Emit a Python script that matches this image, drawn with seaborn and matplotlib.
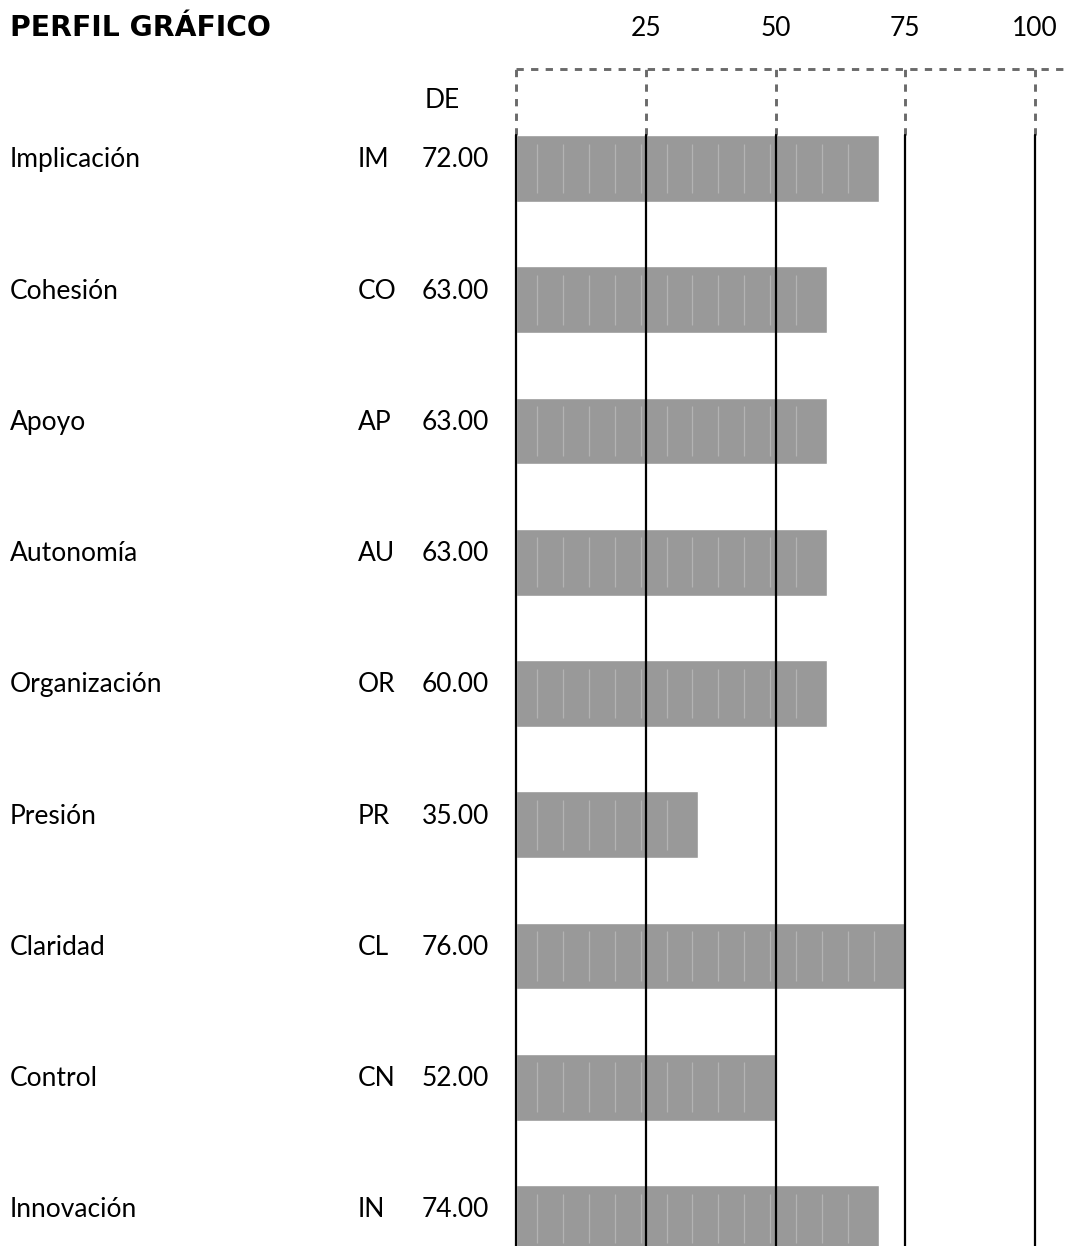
import matplotlib
matplotlib.use("Agg")
import matplotlib.pyplot as plt
import matplotlib.transforms as mtransforms
import pandas as pd
import seaborn as sns

# Data
scales = ["Implicación", "Cohesión", "Apoyo", "Autonomía", "Organización",
          "Presión", "Claridad", "Control", "Innovación"]
codes = ["IM", "CO", "AP", "AU", "OR", "PR", "CL", "CN", "IN"]
scores = [72.00, 63.00, 63.00, 63.00, 60.00, 35.00, 76.00, 52.00, 74.00]
# drawn bar length (the bars are built from 5-point blocks)
bar_len = [70, 60, 60, 60, 60, 35, 75, 50, 70]
ticks = [25, 50, 75, 100]

df = pd.DataFrame({"scale": scales, "code": codes, "score": scores, "bar": bar_len})

W, H = 1065, 1246
sns.set_style("white")
plt.rcParams["font.family"] = ["Lato", "DejaVu Sans"]
plt.rcParams["text.color"] = "black"
FS = 19

fig = plt.figure(figsize=(W / 100, H / 100), dpi=100)
ax_left, ax_right, ax_top = 516, 1035, 135
ax = fig.add_axes([ax_left / W, 0, (ax_right - ax_left) / W, 1 - ax_top / H])

sns.barplot(data=df, x="bar", y="scale", orient="h", color="#999999",
            saturation=1, width=0.51, ax=ax, zorder=2)

# row geometry in pixels
row0, step = 168.5, 131.25
def prow(py):
    return (py - row0) / step

ax.set_xlim(0, 100)
ax.set_ylim(prow(H), prow(ax_top))
ax.set_xlabel("")
ax.set_ylabel("")
ax.set_xticks([])
ax.set_yticks([])
for s in ax.spines.values():
    s.set_visible(False)

# light block separators inside the bars
for i, b in enumerate(bar_len):
    xs = [5 * k - 1 for k in range(1, b // 5)]
    ax.vlines(xs, i - 0.19, i + 0.19, color="#b3b3b3", lw=0.9, zorder=3)

# solid reference lines
for x in [0] + ticks:
    ax.axvline(x, color="black", lw=1.6, zorder=4, clip_on=False)

# dashed frame above the plot
top_dash = prow(69)
dash = dict(color="#6a6a6a", lw=2.1, ls=(0, (2.5, 2.5)), clip_on=False)
for x in [0] + ticks:
    ax.plot([x, x], [prow(ax_top), top_dash], **dash)
ax.plot([0, (W - ax_left) / ((ax_right - ax_left) / 100)], [top_dash, top_dash], **dash)

# tick labels on top
for t in ticks:
    ax.text(t, prow(28), str(t), ha="center", va="center", fontsize=FS,
            clip_on=False)

# row texts
fx = mtransforms.blended_transform_factory(fig.transFigure, ax.transData)
for i, (name, code, sc) in enumerate(zip(scales, codes, scores)):
    y = i - 0.065
    ax.text(10 / W, y, name, transform=fx, ha="left", va="center", fontsize=FS)
    ax.text(358 / W, y, code, transform=fx, ha="left", va="center", fontsize=FS)
    ax.text(489 / W, y, f"{sc:.2f}", transform=fx, ha="right", va="center", fontsize=FS)

ax.text(425 / W, prow(100), "DE", transform=fx, ha="left", va="center", fontsize=FS)

fig.text(10 / W, 1 - 28 / H, "PERFIL GRÁFICO", ha="left", va="center",
         fontsize=20.3, fontweight="bold", family=["DejaVu Sans"])

fig.savefig("out.png", dpi=100)
